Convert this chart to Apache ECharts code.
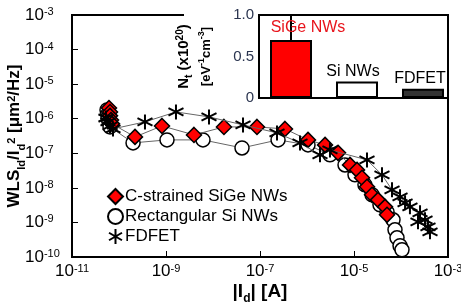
<!DOCTYPE html>
<html><head><meta charset="utf-8">
<script src="https://cdn.jsdelivr.net/npm/echarts@6/dist/echarts.min.js"></script>
<style>html,body{margin:0;padding:0;background:#fff}#c{width:461px;height:304px}</style>
</head><body><div id="c"></div>
<script>
// Main plot data: |Id| [A] and WL*S_Id/Id^2 [um^2/Hz]
const sigeId = [6.12e-11, 6.44e-11, 6.44e-11, 6.76e-11, 7.1e-11, 2.19e-10, 8.22e-10, 3.94e-9, 1.71e-8, 8.63e-8, 3.4e-7, 1.05e-6, 2.42e-6, 4.57e-6, 8.22e-6, 1.16e-5, 1.48e-5, 1.89e-5, 2.42e-5, 3.24e-5, 4.57e-5, 5.04e-5];
const sigeS  = [2.05e-6, 1.57e-6, 1.21e-6, 9.2e-7, 7.1e-7, 2.98e-7, 6.19e-7, 3.4e-7, 5.79e-7, 5.79e-7, 5.07e-7, 2.44e-7, 1.75e-7, 1.03e-7, 4.62e-8, 3.31e-8, 1.95e-8, 1.07e-8, 6.28e-9, 4.5e-9, 2.82e-9, 1.66e-9];
const siId = [5.56e-11, 5.83e-11, 5.83e-11, 6.12e-11, 6.44e-11, 1.99e-10, 1.05e-9, 6.12e-9, 4.14e-8, 2.42e-7, 1.05e-6, 3.08e-6, 6.44e-6, 1.05e-5, 1.71e-5, 2.42e-5, 3.57e-5, 5.04e-5, 6.76e-5, 7.45e-5, 8.22e-5, 9.53e-5, 1.05e-4];
const siS  = [1.79e-6, 1.38e-6, 1.05e-6, 8.1e-7, 5.8e-7, 2.0e-7, 2.44e-7, 2.44e-7, 1.43e-7, 2.44e-7, 1.75e-7, 9.0e-8, 4.6e-8, 2.38e-8, 1.22e-8, 6.3e-9, 3.23e-9, 2.02e-9, 1.19e-9, 6.1e-10, 3.59e-10, 2.11e-10, 1.61e-10];
const fdId = [5.28e-11, 5.83e-11, 6.44e-11, 7.45e-11, 3.57e-10, 1.63e-9, 8.22e-9, 4.35e-8, 2.3e-7, 7.1e-7, 1.89e-6, 3.08e-6, 1.89e-5, 3.94e-5, 6.44e-5, 9.53e-5, 1.22e-4, 1.55e-4, 2.54e-4, 2.3e-4, 3.24e-4, 3.75e-4, 4.14e-4];
const fdS  = [1.05e-6, 8.1e-7, 6.2e-7, 5.07e-7, 8.1e-7, 1.57e-6, 1.13e-6, 6.62e-7, 3.89e-7, 2.0e-7, 9.0e-8, 1.25e-7, 6.44e-8, 2.38e-8, 8.75e-9, 5.5e-9, 3.68e-9, 2.82e-9, 1.89e-9, 1.04e-9, 1.19e-9, 7.46e-10, 5.35e-10];
const seriesNames = ['C-strained SiGe NWs', 'Rectangular Si NWs', 'FDFET'];
// Inset data: trap density Nt (x10^20 eV^-1 cm^-3)
const insetCats = ['SiGe NWs', 'Si NWs', 'FDFET'];
const insetNt = [0.70, 0.20, 0.11];

const pair = (a, b) => a.map((v, i) => [v, b[i]]);
const starPath = 'path://M10 0 L10 20 M1.34 5 L18.66 15 M1.34 15 L18.66 5';
const FONT = 'Liberation Sans, Arial, sans-serif';
const supFmt = v => '10{sup|' + Math.round(Math.log10(v)) + '}';
const tickRich = { sup: { fontSize: 11, verticalAlign: 'top', fontFamily: FONT, color: '#000', padding: [0, 0, 6, 0] } };

const chart = echarts.init(document.getElementById('c'), null, { renderer: 'canvas' });
const barColors = ['#ff0000', '#ffffff', '#333333'];
const labelColors = ['#e8141c', '#000', '#000'];
const labelOffsets = [[17, 0], [-4, 2], [-3, 2]];

chart.setOption({
  animation: false,
  textStyle: { fontFamily: FONT },
  grid: [
    { left: 72, right: 13, top: 15, bottom: 47, containLabel: false, outerBoundsMode: 'none', show: true, borderColor: '#000', borderWidth: 2, backgroundColor: 'transparent' },
    { left: 259, top: 15, width: 189, height: 83, containLabel: false, outerBoundsMode: 'none', show: true, borderColor: '#000', borderWidth: 2, backgroundColor: '#fff', z: 60 }
  ],
  xAxis: [
    { type: 'log', logBase: 10, gridIndex: 0, min: 1e-11, max: 1e-3, interval: 2,
      axisLine: { show: true, lineStyle: { color: '#000', width: 2 } },
      axisTick: { show: true, inside: true, length: 6, lineStyle: { color: '#000', width: 1 } },
      splitLine: { show: false }, minorTick: { show: false },
      axisLabel: { fontSize: 17, color: '#000', fontFamily: FONT, margin: 6, formatter: supFmt, rich: tickRich },
      name: '{b||I}{bs|d}{b|| [A]}', nameLocation: 'middle', nameGap: 25, nameMoveOverlap: false,
      nameTextStyle: { rich: {
        b: { fontSize: 19, fontWeight: 'bold', fontFamily: FONT, color: '#000' },
        bs: { fontSize: 12, fontWeight: 'bold', fontFamily: FONT, color: '#000', verticalAlign: 'bottom', padding: [0, 0, -4, 0] } } }
    },
    { type: 'value', gridIndex: 1, min: -0.485, max: 2.379, z: 61,
      axisLine: { show: true, onZero: false, lineStyle: { color: '#000', width: 2 } },
      axisTick: { show: false }, axisLabel: { show: false }, splitLine: { show: false } }
  ],
  yAxis: [
    { type: 'log', logBase: 10, gridIndex: 0, min: 1e-10, max: 1e-3, interval: 1,
      axisLine: { show: true, lineStyle: { color: '#000', width: 2 } },
      axisTick: { show: true, inside: true, length: 6, lineStyle: { color: '#000', width: 1 } },
      splitLine: { show: false }, minorTick: { show: false },
      axisLabel: { fontSize: 17, color: '#000', fontFamily: FONT, margin: 47, align: 'left', formatter: supFmt, rich: tickRich },
      name: '{b|WLS}{s|Id}{b|/I}{s|d}{p|2}{b| [μm}{p|2}{b|/Hz]}', nameLocation: 'middle', nameGap: 49, nameRotate: 90, nameMoveOverlap: false,
      nameTextStyle: { rich: {
        b: { fontSize: 17, fontWeight: 'bold', fontFamily: FONT, color: '#000' },
        s: { fontSize: 11, fontWeight: 'bold', fontFamily: FONT, color: '#000', verticalAlign: 'bottom', padding: [0, 0, -4, 0] },
        p: { fontSize: 11, fontWeight: 'bold', fontFamily: FONT, color: '#000', verticalAlign: 'top', padding: [0, 0, 6, 0] } } }
    },
    { type: 'value', gridIndex: 1, min: 0, max: 1, interval: 0.5, z: 61,
      axisLine: { show: true, lineStyle: { color: '#000', width: 2 } },
      axisTick: { show: true, inside: true, length: 4, lineStyle: { color: '#000', width: 1 } },
      minorTick: { show: true, splitNumber: 5, length: 3, lineStyle: { color: '#000', width: 1 } },
      splitLine: { show: false },
      axisLabel: { fontSize: 15, color: '#2b3550', fontFamily: FONT, margin: 5, formatter: v => v === 0 ? '0' : v.toFixed(1) },
      name: '{b|N}{s|t}{b| (x10}{p|20}{b|)}\n{c|[eV}{q|-1}{c|cm}{q|-3}{c|]}', nameLocation: 'middle', nameGap: 42, nameRotate: 90, nameMoveOverlap: false,
      nameTextStyle: { align: 'center', lineHeight: 22, rich: {
        b: { fontSize: 15, fontWeight: 'bold', fontFamily: FONT, color: '#000', lineHeight: 22 },
        s: { fontSize: 10, fontWeight: 'bold', fontFamily: FONT, color: '#000', verticalAlign: 'bottom', padding: [0, 0, 1, 0] },
        p: { fontSize: 10, fontWeight: 'bold', fontFamily: FONT, color: '#000', verticalAlign: 'top', padding: [2, 0, 0, 0] },
        c: { fontSize: 13, fontWeight: 'bold', fontFamily: FONT, color: '#000', lineHeight: 22 },
        q: { fontSize: 9, fontWeight: 'bold', fontFamily: FONT, color: '#000', verticalAlign: 'top', padding: [2, 0, 0, 0] } } }
    }
  ],
  graphic: [
    { type: 'rect', left: 184, top: 0, shape: { width: 277, height: 98 }, style: { fill: '#fff' }, z: 50 }
  ],
  legend: {
    left: 102, top: 183, orient: 'vertical', itemGap: 3, itemWidth: 15, itemHeight: 15,
    textStyle: { fontSize: 17, color: '#000', fontFamily: FONT, padding: [0, 0, 0, -3] },
    data: [
      { name: seriesNames[0], icon: 'diamond' },
      { name: seriesNames[1], icon: 'circle' },
      { name: seriesNames[2], icon: starPath }
    ]
  },
  series: [
    { name: seriesNames[1], type: 'line', xAxisIndex: 0, yAxisIndex: 0, data: pair(siId, siS),
      symbol: 'circle', symbolSize: 14, z: 3,
      lineStyle: { color: '#666', width: 1 },
      itemStyle: { color: '#fff', borderColor: '#000', borderWidth: 1.5 } },
    { name: seriesNames[0], type: 'line', xAxisIndex: 0, yAxisIndex: 0, data: pair(sigeId, sigeS),
      symbol: 'diamond', symbolSize: 15, z: 4,
      lineStyle: { color: '#666', width: 1 },
      itemStyle: { color: '#ff0000', borderColor: '#000', borderWidth: 1.5 } },
    { name: seriesNames[2], type: 'line', xAxisIndex: 0, yAxisIndex: 0, data: pair(fdId, fdS),
      symbol: starPath, symbolSize: 15, z: 5,
      lineStyle: { color: '#666', width: 1 },
      itemStyle: { color: '#000', borderColor: '#000', borderWidth: 2 } },
    { type: 'bar', xAxisIndex: 1, yAxisIndex: 1, z: 62, barWidth: 42,
      data: insetNt.map((v, i) => ({
        value: [i, v],
        itemStyle: { color: barColors[i], borderColor: '#000', borderWidth: 2 },
        label: { show: true, position: 'top', distance: 4, offset: labelOffsets[i], formatter: insetCats[i],
          fontSize: 16, color: labelColors[i], fontFamily: FONT }
      })) }
  ]
});
</script></body></html>
